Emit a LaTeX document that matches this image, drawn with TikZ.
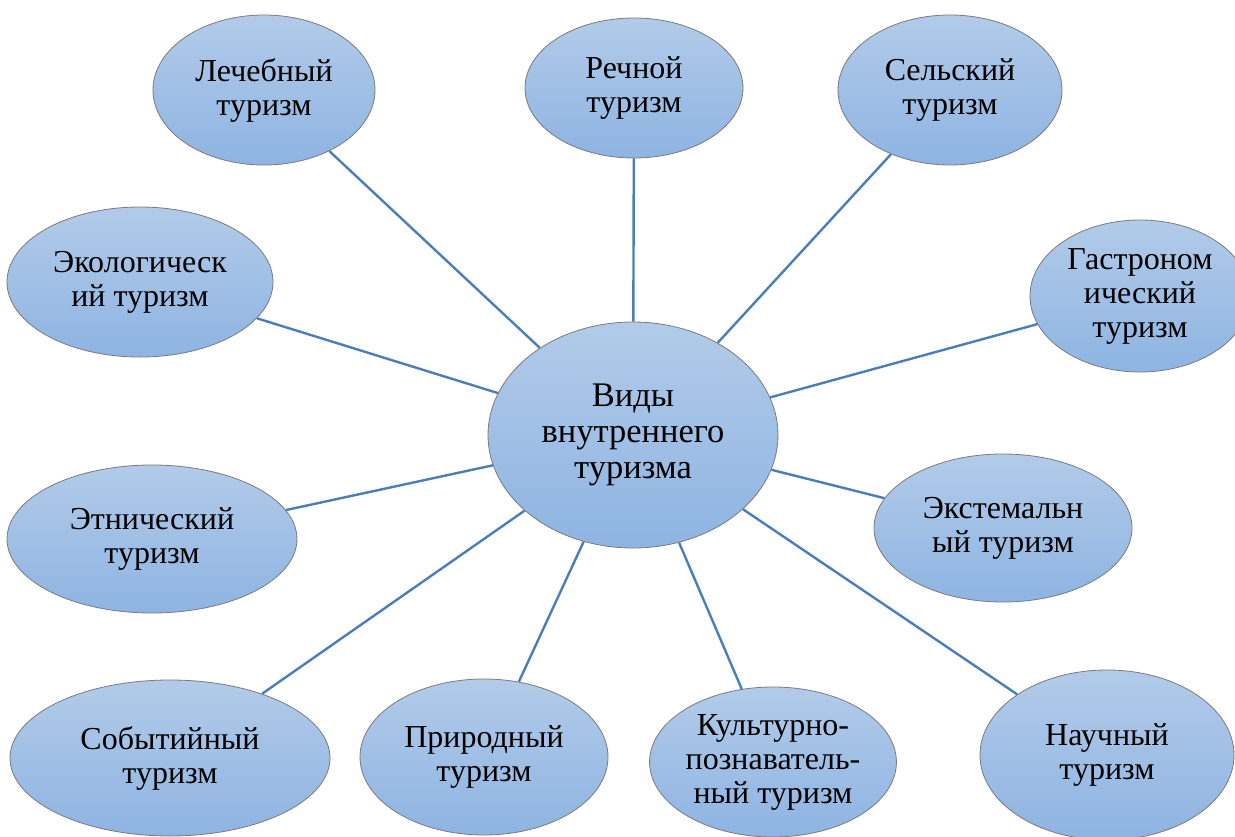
\documentclass[tikz,border=0pt]{standalone}
\usepackage{fontspec}
\setmainfont{Liberation Serif}
\usetikzlibrary{shapes.geometric,backgrounds}
\definecolor{topc}{HTML}{B2CBE9}
\definecolor{botc}{HTML}{8EB4E2}
\definecolor{edgec}{HTML}{7A7A7A}
\definecolor{linkc}{HTML}{4A7EBB}
\tikzset{
  bub/.style={ellipse, draw=edgec, line width=0.8pt, top color=topc, bottom color=botc,
    inner sep=0pt, align=center, font=\fontsize{32}{34}\selectfont},
  hub/.style={bub, font=\fontsize{34.5}{36}\selectfont},
  link/.style={draw=linkc, line width=2.4pt}
}
\begin{document}
\begin{tikzpicture}[x=1pt,y=-1pt]
\useasboundingbox (0,0) rectangle (1235,836);
\node[hub, minimum width=290, minimum height=226] (c) at (633,435) {Виды\\внутреннего\\туризма};
\node[bub, minimum width=222, minimum height=150] (lech) at (264,90) {Лечебный\\туризм};
\node[bub, minimum width=218, minimum height=140] (rech) at (634,88) {Речной\\туризм};
\node[bub, minimum width=224, minimum height=150] (sel) at (950,90) {Сельский\\туризм};
\node[bub, minimum width=266, minimum height=150] (eko) at (140,282) {Экологическ\\ий туризм};
\node[bub, minimum width=220, minimum height=152] (gas) at (1140,296) {Гастроном\\ический\\туризм};
\node[bub, minimum width=290, minimum height=148] (etn) at (152,539) {Этнический\\туризм};
\node[bub, minimum width=258, minimum height=148] (ekst) at (1003,528) {Экстемальн\\ый туризм};
\node[bub, minimum width=320, minimum height=156] (sob) at (170,758) {Событийный\\туризм};
\node[bub, minimum width=248, minimum height=156] (prir) at (484,757) {Природный\\туризм};
\node[bub, minimum width=242, minimum height=150] (kult) at (773,762) {Культурно-\\познаватель-\\ный туризм};
\node[bub, minimum width=254, minimum height=170] (nauch) at (1107,755) {Научный\\туризм};
\begin{scope}[on background layer]
\foreach \n in {lech,rech,sel,eko,gas,etn,ekst,sob,prir,kult,nauch}
  \draw[link] (c) -- (\n);
\end{scope}
\end{tikzpicture}
\end{document}
